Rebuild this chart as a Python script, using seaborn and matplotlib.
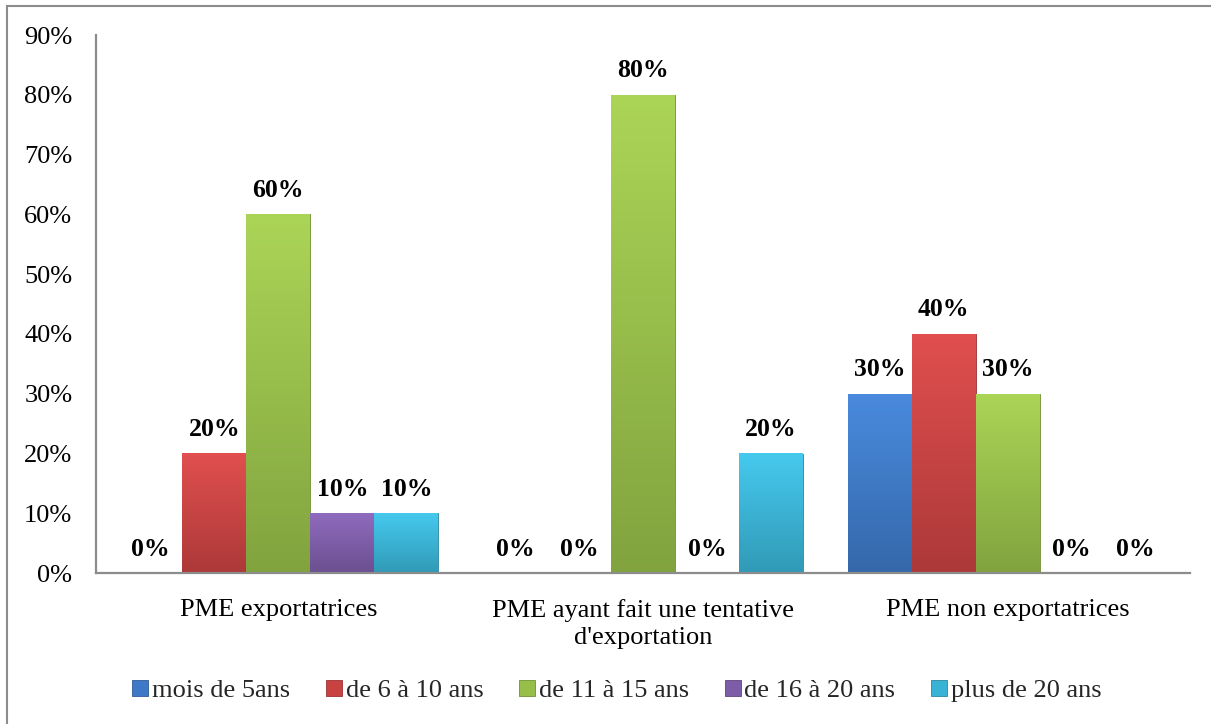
import matplotlib
matplotlib.use("Agg")
import matplotlib.pyplot as plt
import seaborn as sns
import pandas as pd
import numpy as np
from matplotlib.patches import Patch, Rectangle
from matplotlib.colors import to_rgb
from matplotlib.ticker import FuncFormatter, MultipleLocator

categories = ["PME exportatrices",
              "PME ayant fait une tentative\nd'exportation",
              "PME non exportatrices"]
series = ["mois de 5ans", "de 6 à 10 ans", "de 11 à 15 ans",
          "de 16 à 20 ans", "plus de 20 ans"]
v_moins_5 = [0, 0, 30]
v_6_10 = [20, 0, 40]
v_11_15 = [60, 80, 30]
v_16_20 = [10, 0, 0]
v_plus_20 = [10, 20, 0]
colors = ["#3D79C6", "#C94242", "#97BE49", "#7D5CA8", "#39B3D5"]

values = [v_moins_5, v_6_10, v_11_15, v_16_20, v_plus_20]
rows = []
for s, vals in zip(series, values):
    for c, v in zip(categories, vals):
        rows.append({"cat": c, "serie": s, "val": v})
df = pd.DataFrame(rows)

sns.set_theme(style="white")
plt.rcParams["font.family"] = ["Liberation Serif", "DejaVu Serif"]

W, H = 1211, 724
fig = plt.figure(figsize=(W / 100, H / 100), dpi=100)
ax = fig.add_axes([96 / W, 1 - 573 / H, (1190 - 96) / W, (573 - 35.25) / H])

sns.barplot(data=df, x="cat", y="val", hue="serie", order=categories,
            hue_order=series, palette=colors, width=0.877, ax=ax,
            saturation=1, legend=False, edgecolor="none", linewidth=0)

ax.set_ylim(0, 90)
ax.set_xlim(-0.5, 2.5)

# subtle vertical shading on each bar (lighter top, darker bottom)
for cont, col in zip(ax.containers, colors):
    base = np.array(to_rgb(col))
    for bar in cont:
        h = bar.get_height()
        if h <= 0:
            continue
        x0 = bar.get_x()
        w = bar.get_width()
        t = np.linspace(0, 1, 64)[:, None]
        light = np.clip(base * 1.08 + 0.03, 0, 1)
        dark = base * 0.86
        grad = light[None, :] * (1 - t) + dark[None, :] * t
        img = np.repeat(grad[:, None, :], 2, axis=1)
        im = ax.imshow(img, extent=(x0, x0 + w, 0, h), origin="upper",
                       aspect="auto", zorder=bar.get_zorder() + 0.1,
                       interpolation="bilinear")
        im.set_clip_path(bar)
        bar.set_edgecolor(tuple(base * 0.75))
        bar.set_linewidth(0.6)
ax.set_ylim(0, 90)
ax.set_xlim(-0.5, 2.5)

for cont in ax.containers:
    ax.bar_label(cont, labels=[f"{int(round(b.get_height()))}%" for b in cont],
                 padding=9, fontsize=18.5, fontweight="bold", color="black")

ax.yaxis.set_major_locator(MultipleLocator(10))
ax.yaxis.set_major_formatter(FuncFormatter(lambda v, p: f"{int(round(v))}%"))
ax.set_xlabel("")
ax.set_ylabel("")
ax.tick_params(axis="y", length=0, pad=17, labelsize=19, colors="black")
ax.tick_params(axis="x", length=0, pad=19, labelsize=19, colors="black")
for lab in ax.get_xticklabels():
    lab.set_linespacing(1.3)
for side in ["top", "right"]:
    ax.spines[side].set_visible(False)
for side in ["left", "bottom"]:
    ax.spines[side].set_color("#8c8c8c")
    ax.spines[side].set_linewidth(1.6)
    ax.spines[side].set_zorder(5)
ax.grid(False)

handles = [Patch(facecolor=c, edgecolor=tuple(np.array(to_rgb(c)) * 0.75),
                 linewidth=0.6) for c in colors]
fig.legend(handles, series, loc="center", bbox_to_anchor=(617 / W, 1 - 691 / H),
           ncol=5, frameon=False, fontsize=19, handlelength=0.6, handleheight=0.6,
           handletextpad=0.15, columnspacing=1.35, borderaxespad=0)

fig.patches.append(Rectangle((6.5 / W, -0.1), 1.2, (1 - 6.5 / H) + 0.1,
                             transform=fig.transFigure, fill=False,
                             edgecolor="#8c8c8c", linewidth=1.5, zorder=0))

fig.savefig("out.png", dpi=100, facecolor="white")
